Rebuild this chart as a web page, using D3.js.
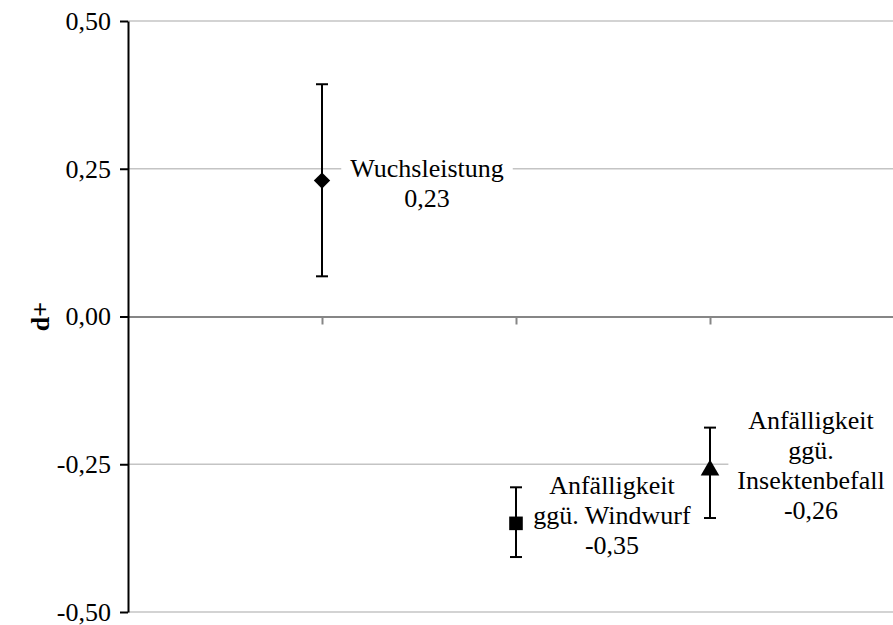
<!DOCTYPE html>
<html>
<head>
<meta charset="utf-8">
<script src="https://cdn.jsdelivr.net/npm/d3@7"></script>
<style>
  html, body { margin: 0; padding: 0; background: #ffffff; }
  svg { display: block; }
  text { font-family: "Liberation Serif", "Times New Roman", serif; fill: #000; }
</style>
</head>
<body>
<svg id="chart" width="893" height="625"></svg>
<script>
// Effect sizes (d+) with confidence intervals for the three outcome groups
const categories = ["Wuchsleistung", "Anfälligkeit ggü. Windwurf", "Anfälligkeit ggü. Insektenbefall"];
const labelLines = [["Wuchsleistung"], ["Anfälligkeit", "ggü. Windwurf"], ["Anfälligkeit", "ggü.", "Insektenbefall"]];
const effectSizes = [0.23, -0.35, -0.26];
const ciLower = [0.068, -0.407, -0.341];
const ciUpper = [0.393, -0.289, -0.188];
const markerShapes = ["diamond", "square", "triangle"];
const yTicks = [-0.5, -0.25, 0, 0.25, 0.5];
const xPositions = [1, 2, 3];

// label placement relative to each point (px)
const labelDx = [105, 96, 101];
const labelDy = [-4, -29, -41];

const W = 893, H = 625;
const margin = { left: 128, top: 21, bottom: 13 };

const deLocale = d3.formatLocale({ decimal: ",", thousands: ".", grouping: [3], currency: ["", " €"], minus: "-" });
const fmt = deLocale.format(".2f");

const svg = d3.select("#chart");

const x = d3.scaleLinear().domain([0, 4]).range([margin.left, margin.left + 4 * 194]);
const y = d3.scaleLinear().domain([-0.5, 0.5]).range([H - margin.bottom, margin.top]);

// horizontal gridlines
svg.append("g").attr("class", "grid")
  .selectAll("line")
  .data(yTicks.filter(d => d !== 0))
  .join("line")
  .attr("x1", margin.left).attr("x2", W)
  .attr("y1", d => y(d)).attr("y2", d => y(d))
  .attr("stroke", "#c4c4c4").attr("stroke-width", 1.5);

// category axis along d+ = 0
const xAxis = svg.append("g")
  .attr("transform", `translate(0,${y(0)})`)
  .call(d3.axisBottom(x).tickValues(xPositions).tickSize(8).tickSizeOuter(0).tickFormat(""));
xAxis.select(".domain").attr("stroke", "#868686").attr("stroke-width", 2);
xAxis.selectAll(".tick line").attr("stroke", "#868686").attr("stroke-width", 2);

// value axis
const yAxis = svg.append("g")
  .attr("transform", `translate(${margin.left},0)`)
  .call(d3.axisLeft(y).tickValues(yTicks).tickSize(8).tickSizeOuter(0).tickPadding(9).tickFormat(fmt));
yAxis.select(".domain").attr("stroke", "#000").attr("stroke-width", 2);
yAxis.selectAll(".tick line").attr("stroke", "#000").attr("stroke-width", 2);
yAxis.selectAll(".tick text")
  .style("font-family", "'Liberation Serif', 'Times New Roman', serif")
  .style("font-size", "26px").attr("fill", "#000");

svg.append("text")
  .attr("transform", `translate(49,${y(0)}) rotate(-90)`)
  .attr("text-anchor", "middle")
  .style("font-size", "26px").style("font-weight", "bold")
  .text("d+");

// error bars
const bars = svg.append("g").attr("class", "errorbars");
categories.forEach((c, i) => {
  const cx = x(xPositions[i]);
  const g = bars.append("g");
  g.append("line").attr("x1", cx).attr("x2", cx)
    .attr("y1", y(ciLower[i])).attr("y2", y(ciUpper[i]));
  [ciLower[i], ciUpper[i]].forEach(v => {
    g.append("line").attr("x1", cx - 6).attr("x2", cx + 6)
      .attr("y1", y(v)).attr("y2", y(v));
  });
  g.selectAll("line").attr("stroke", "#000").attr("stroke-width", 2);
});

// markers
const symbolFor = {
  diamond: d3.symbol().type(d3.symbolDiamond2).size(170),
  square: d3.symbol().type(d3.symbolSquare).size(185),
  triangle: d3.symbol().type(d3.symbolTriangle).size(150)
};
svg.append("g").attr("class", "markers")
  .selectAll("path")
  .data(effectSizes)
  .join("path")
  .attr("transform", (d, i) => `translate(${x(xPositions[i])},${y(d)})`)
  .attr("d", (d, i) => symbolFor[markerShapes[i]]())
  .attr("fill", "#000");

// data labels with white backgrounds
const labels = svg.append("g").attr("class", "labels");
effectSizes.forEach((v, i) => {
  const cx = x(xPositions[i]) + labelDx[i];
  const y0 = y(v) + labelDy[i];
  const g = labels.append("g");
  const rect = g.append("rect").attr("fill", "#fff");
  const lines = labelLines[i].concat([fmt(v)]);
  const t = g.append("text")
    .attr("text-anchor", "middle")
    .style("font-size", "26px");
  lines.forEach((s, k) => {
    t.append("tspan").attr("x", cx).attr("y", y0 + k * 30).text(s);
  });
  const bb = t.node().getBBox();
  rect.attr("x", bb.x - 9).attr("y", bb.y).attr("width", bb.width + 18).attr("height", bb.height);
});
</script>
</body>
</html>
